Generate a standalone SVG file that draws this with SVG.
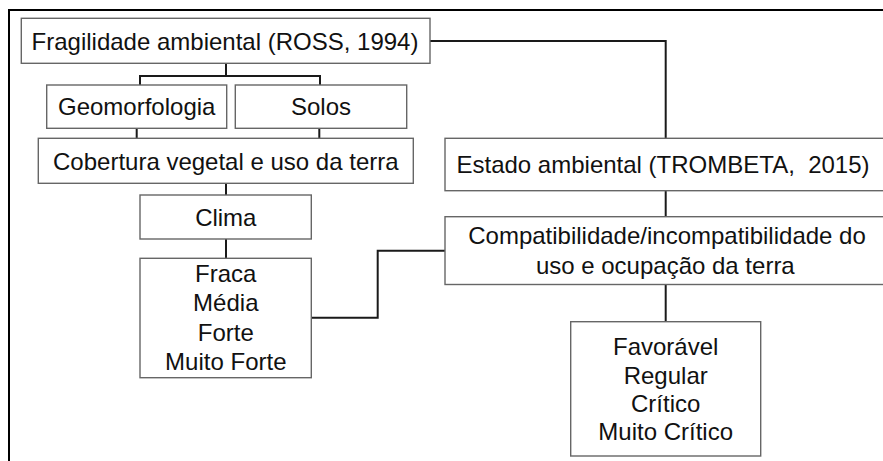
<svg xmlns="http://www.w3.org/2000/svg" width="883" height="461" viewBox="0 0 883 461">
<style>
.box{fill:#fff;stroke:#666;stroke-width:1.4}
.t{font-family:"Liberation Sans",Arial,sans-serif;font-size:24px;fill:#111;text-anchor:middle}
.c{fill:none;stroke:#1a1a1a;stroke-width:2}
.frame{fill:none;stroke:#000;stroke-width:2}
</style>
<rect x="0" y="0" width="883" height="461" fill="#fff"/>
<path class="frame" d="M9,461 V10 H883"/>
<g id="connectors">
<path class="c" d="M226,63 V76 M140,85 V76 H320 V85"/>
<path class="c" d="M136.7,128 V138.3 M319.3,128 V138.3"/>
<path class="c" d="M226,183.3 V195"/>
<path class="c" d="M226,239 V258.3"/>
<path class="c" d="M430,41 H665.7 V138.3"/>
<path class="c" d="M665.7,190.7 V216.7"/>
<path class="c" d="M665.7,284.5 V321.7"/>
<path class="c" d="M311.3,317.7 H377.7 V250.7 H445"/>
</g>
<g id="fragilidade">
<rect class="box" x="21.3" y="18.3" width="408.7" height="45"/>
<text class="t" x="225" y="49.5">Fragilidade ambiental (ROSS, 1994)</text>
</g>
<g id="geomorfologia">
<rect class="box" x="46.7" y="85" width="180" height="43.3"/>
<text class="t" x="136.7" y="115">Geomorfologia</text>
</g>
<g id="solos">
<rect class="box" x="235.3" y="85" width="171.4" height="43.3"/>
<text class="t" x="321" y="115">Solos</text>
</g>
<g id="cobertura">
<rect class="box" x="38.3" y="138.3" width="375" height="45"/>
<text class="t" x="225.8" y="169.5">Cobertura vegetal e uso da terra</text>
</g>
<g id="clima">
<rect class="box" x="140" y="195" width="171.3" height="44"/>
<text class="t" x="225.8" y="225.5">Clima</text>
</g>
<g id="fragilidade-classes">
<rect class="box" x="140" y="258.3" width="171.3" height="119.4"/>
<text class="t" x="225.8" y="282">Fraca</text>
<text class="t" x="225.8" y="311.3">Média</text>
<text class="t" x="225.8" y="340.5">Forte</text>
<text class="t" x="225.8" y="369.7">Muito Forte</text>
</g>
<g id="estado">
<rect class="box" x="445" y="138.3" width="445" height="52.4"/>
<text class="t" x="663" y="173" font-size="22.5" xml:space="preserve">Estado ambiental (TROMBETA,  2015)</text>
</g>
<g id="compatibilidade">
<rect class="box" x="445" y="216.7" width="445" height="67.8"/>
<text class="t" x="667" y="243.5">Compatibilidade/incompatibilidade do</text>
<text class="t" x="665.3" y="273.5">uso e ocupação da terra</text>
</g>
<g id="estado-classes">
<rect class="box" x="570.7" y="321.7" width="190" height="134.3"/>
<text class="t" x="665.7" y="355.3">Favorável</text>
<text class="t" x="665.7" y="383.7">Regular</text>
<text class="t" x="665.7" y="412">Crítico</text>
<text class="t" x="665.7" y="440.3">Muito Crítico</text>
</g>
</svg>
